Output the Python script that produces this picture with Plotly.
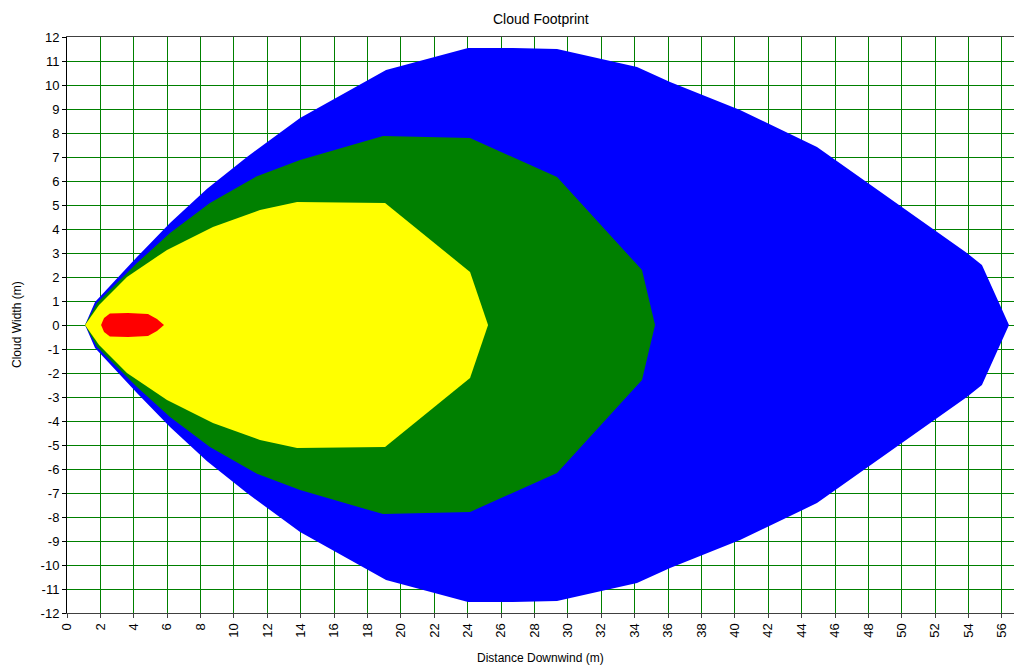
import plotly.graph_objects as go

# Upper halves of each footprint contour (cloud is symmetric about y = 0)
blue_x = [1.08, 1.68, 4.19, 6.17, 8.39, 10.78, 13.96, 19.11, 24.02, 26.71, 29.35,
          34.14, 36.12, 40.31, 44.92, 53.90, 54.80, 56.42]
blue_y = [0.0, 0.96, 2.83, 4.25, 5.68, 7.00, 8.63, 10.63, 11.54, 11.54, 11.50,
          10.75, 10.13, 8.96, 7.42, 3.00, 2.50, 0.0]

green_x = [1.08, 1.80, 4.19, 6.17, 8.56, 11.38, 13.96, 18.93, 24.14, 29.35, 34.44, 35.22]
green_y = [0.0, 0.92, 2.58, 3.83, 5.08, 6.20, 6.88, 7.88, 7.79, 6.17, 2.29, 0.0]

yellow_x = [1.08, 1.92, 3.59, 5.99, 8.74, 11.56, 13.78, 19.05, 24.14, 25.22]
yellow_y = [0.0, 0.83, 2.00, 3.13, 4.08, 4.79, 5.13, 5.08, 2.21, 0.0]

red_x = [2.04, 2.22, 2.57, 3.65, 4.85, 5.39, 5.81]
red_y = [0.0, 0.29, 0.48, 0.50, 0.46, 0.25, 0.0]

x_ticks = list(range(0, 57, 2))
y_ticks = list(range(-12, 13, 1))

def outline(xs, ys):
    return xs + xs[::-1], ys + [-v for v in ys[::-1]]

fig = go.Figure()
for xs, ys, col in [(blue_x, blue_y, "#0000FF"), (green_x, green_y, "#008000"),
                    (yellow_x, yellow_y, "#FFFF00"), (red_x, red_y, "#FF0000")]:
    px, py = outline(xs, ys)
    fig.add_trace(go.Scatter(x=px, y=py, mode="lines", fill="toself",
                             fillcolor=col, line=dict(width=0, color=col),
                             hoverinfo="skip", showlegend=False))

font = dict(family="Liberation Sans, Arial, sans-serif", size=13, color="#000000")
small = dict(family="Liberation Sans, Arial, sans-serif", size=12, color="#000000")

fig.update_layout(
    width=1016, height=668,
    margin=dict(l=67, r=2, t=37, b=55, autoexpand=False),
    paper_bgcolor="white", plot_bgcolor="white",
    font=font,
    showlegend=False,
    xaxis=dict(range=[0, 56.72], tickmode="array", tickvals=x_ticks,
               ticktext=[str(v) for v in x_ticks], tickangle=-90,
               showgrid=True, gridcolor="#008000", gridwidth=1,
               showline=True, linecolor="#404040", linewidth=1, mirror=True,
               ticks="outside", ticklen=4, tickcolor="#404040",
               zeroline=False, fixedrange=True, tickfont=font, automargin=False),
    yaxis=dict(range=[-12, 12], tickmode="array", tickvals=y_ticks,
               ticktext=[str(v) for v in y_ticks],
               showgrid=True, gridcolor="#008000", gridwidth=1,
               showline=True, linecolor="#000000", linewidth=1,
               ticks="outside", ticklen=4, tickcolor="#000000",
               zeroline=False, fixedrange=True, tickfont=font, automargin=False),
    annotations=[
        dict(text="Cloud Footprint", xref="paper", yref="paper", x=0.5, y=1,
             yshift=18, xanchor="center", yanchor="middle", showarrow=False,
             font=dict(family="Liberation Sans, Arial, sans-serif", size=14)),
        dict(text="Distance Downwind (m)", xref="paper", yref="paper", x=0.5, y=0,
             yshift=-45, xanchor="center", yanchor="middle", showarrow=False,
             font=small),
        dict(text="Cloud Width (m)", xref="paper", yref="paper", x=0, y=0.5,
             xshift=-50, textangle=-90, xanchor="center", yanchor="middle",
             showarrow=False, font=small),
    ],
)

fig.write_html("out.html", config={"displayModeBar": False},
               post_script="document.body.style.margin='0px';"
                           "document.body.style.overflow='hidden';")
